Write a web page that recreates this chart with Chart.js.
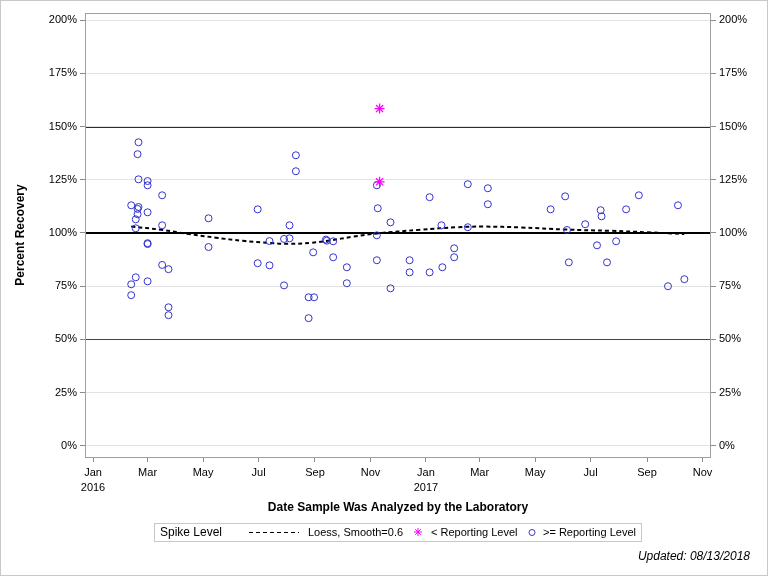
<!DOCTYPE html>
<html>
<head>
<meta charset="utf-8">
<script src="https://cdn.jsdelivr.net/npm/chart.js@4"></script>
<style>
  html, body { margin: 0; padding: 0; background: #fff; }
  #wrap { width: 768px; height: 576px; }
</style>
</head>
<body>
<div id="wrap"><canvas id="myChart" width="768" height="576"></canvas></div>
<script>
// spike recoveries, >= reporting level (one entry per sample)
const circleDates = [
  '2016-02-12','2016-02-12','2016-02-12',
  '2016-02-17','2016-02-17','2016-02-17',
  '2016-02-19','2016-02-19','2016-02-19',
  '2016-02-20','2016-02-20','2016-02-20',
  '2016-03-01','2016-03-01','2016-03-01','2016-03-01','2016-03-01','2016-03-01',
  '2016-03-17','2016-03-17','2016-03-17',
  '2016-03-24','2016-03-24','2016-03-24',
  '2016-05-07','2016-05-07',
  '2016-06-30','2016-06-30',
  '2016-07-13','2016-07-13',
  '2016-07-29','2016-07-29',
  '2016-08-04','2016-08-04',
  '2016-08-11','2016-08-11',
  '2016-08-25','2016-08-25',
  '2016-08-30','2016-08-31',
  '2016-09-13','2016-09-14',
  '2016-09-21','2016-09-21',
  '2016-10-06','2016-10-06',
  '2016-11-08','2016-11-08','2016-11-08','2016-11-09',
  '2016-11-23','2016-11-23',
  '2016-12-14','2016-12-14',
  '2017-01-05','2017-01-05',
  '2017-01-18','2017-01-19',
  '2017-02-01','2017-02-01',
  '2017-02-16','2017-02-16',
  '2017-03-10','2017-03-10',
  '2017-05-18','2017-06-03','2017-06-05','2017-06-07','2017-06-25',
  '2017-07-08','2017-07-12','2017-07-13','2017-07-19','2017-07-29',
  '2017-08-09','2017-08-23','2017-09-24','2017-10-05','2017-10-12'
];
const circleValues = [
  113, 75.9, 70.8,
  106.4, 102.2, 79.2,
  137, 111.3, 108.8,
  142.6, 125.2, 112.2,
  124.4, 122.4, 109.7, 95.2, 94.8, 77.3,
  117.7, 103.6, 85,
  83, 65.1, 61.4,
  106.9, 93.4,
  111.1, 85.8,
  96.2, 84.8,
  97.2, 75.4,
  103.6, 97.5,
  136.5, 129,
  69.8, 60,
  90.9, 69.8,
  96.9, 96.4,
  96.1, 88.6,
  83.9, 76.4,
  122.4, 98.9, 87.2, 111.6,
  105, 74,
  87.2, 81.5,
  116.8, 81.5,
  103.6, 83.9,
  92.8, 88.6,
  122.9, 102.7,
  121, 113.5,
  111.1, 117.2, 101.4, 86.2, 104.1,
  94.2, 110.7, 107.8, 86.2, 96.1,
  111.1, 117.7, 75, 113, 78.3
];

// spike recoveries, < reporting level
const starDates = ['2016-11-11', '2016-11-11'];
const starValues = [158.4, 124];

// loess fit
const loessDates = ['2016-02-12','2016-03-16','2016-04-15','2016-05-15','2016-06-14','2016-07-14',
  '2016-08-03','2016-08-28','2016-09-17','2016-10-12','2016-11-08','2016-12-26',
  '2017-02-04','2017-03-06','2017-04-15','2017-06-04','2017-07-24','2017-09-02','2017-10-12'];
const loessValues = [103, 101.5, 99.5, 97.8, 96.3, 95.3,
  94.9, 95.4, 96.5, 98.2, 99.8, 101.5,
  102.7, 103, 102.6, 101.6, 101, 100.3, 99.5];

const refLines = [150, 100, 50];
const refColors = ['#22227a', '#000000', '#3030f0'];

const yTickValues = [0, 25, 50, 75, 100, 125, 150, 175, 200];
const xTickDates = ['2016-01-01','2016-03-01','2016-05-01','2016-07-01','2016-09-01','2016-11-01',
  '2017-01-01','2017-03-01','2017-05-01','2017-07-01','2017-09-01','2017-11-01'];
const xTickLabels = [['Jan','2016'],'Mar','May','Jul','Sep','Nov',['Jan','2017'],'Mar','May','Jul','Sep','Nov'];

const FONT = 'Liberation Sans, Arial, sans-serif';
const T0 = Date.UTC(2016, 0, 1);
function dayNum(s) {
  const p = s.split('-').map(Number);
  return (Date.UTC(p[0], p[1] - 1, p[2]) - T0) / 86400000;
}
const pts = (dates, vals) => dates.map((d, i) => ({x: dayNum(d), y: vals[i]}));

const framePlugin = {
  id: 'frame',
  beforeDatasetsDraw(chart) {
    const {ctx, chartArea: a, scales} = chart;
    ctx.save();
    refLines.forEach((v, i) => {
      const y = Math.round(scales.y.getPixelForValue(v));
      ctx.strokeStyle = refColors[i];
      ctx.lineWidth = v === 100 ? 2 : 1;
      ctx.beginPath();
      if (v === 100) { ctx.moveTo(a.left, y); ctx.lineTo(a.right, y); }
      else { ctx.moveTo(a.left, y + 0.5); ctx.lineTo(a.right, y + 0.5); }
      ctx.stroke();
    });
    ctx.restore();
  },
  afterDraw(chart) {
    const {ctx, chartArea: a} = chart;
    ctx.save();
    ctx.strokeStyle = '#a0a0a0';
    ctx.lineWidth = 1;
    ctx.strokeRect(Math.round(a.left) + 0.5, Math.round(a.top) + 0.5,
      Math.round(a.right - a.left) - 1, Math.round(a.bottom - a.top));
    // outer border
    ctx.strokeStyle = '#c8c8c8';
    ctx.strokeRect(0.5, 0.5, 767, 575);

    // legend
    ctx.strokeStyle = '#c8c8c8';
    ctx.strokeRect(154.5, 523.5, 487, 18);
    ctx.fillStyle = '#000';
    ctx.textBaseline = 'middle';
    ctx.font = '12px ' + FONT;
    ctx.fillText('Spike Level', 160, 533);
    ctx.font = '11px ' + FONT;
    ctx.strokeStyle = '#000';
    ctx.setLineDash([4, 3]);
    ctx.beginPath(); ctx.moveTo(249, 532.5); ctx.lineTo(299, 532.5); ctx.stroke();
    ctx.setLineDash([]);
    ctx.fillText('Loess, Smooth=0.6', 308, 533);
    // star
    ctx.strokeStyle = '#ff00ff';
    ctx.beginPath();
    const sx = 418, sy = 532, r = 4;
    ctx.moveTo(sx - r, sy); ctx.lineTo(sx + r, sy);
    ctx.moveTo(sx, sy - r); ctx.lineTo(sx, sy + r);
    ctx.moveTo(sx - r * 0.7, sy - r * 0.7); ctx.lineTo(sx + r * 0.7, sy + r * 0.7);
    ctx.moveTo(sx - r * 0.7, sy + r * 0.7); ctx.lineTo(sx + r * 0.7, sy - r * 0.7);
    ctx.stroke();
    ctx.fillText('< Reporting Level', 431, 533);
    ctx.strokeStyle = '#3333cc';
    ctx.beginPath(); ctx.arc(532, 532.5, 3, 0, Math.PI * 2); ctx.stroke();
    ctx.fillText('>= Reporting Level', 543, 533);

    // footnote
    ctx.font = 'italic 12px ' + FONT;
    ctx.textAlign = 'right';
    ctx.fillText('Updated: 08/13/2018', 750, 557);
    ctx.restore();
  }
};

const tickFont = {family: FONT, size: 11};
const yAxis = (pos, width) => ({
  type: 'linear',
  position: pos,
  min: -5.2,
  max: 203.3,
  afterBuildTicks: s => { s.ticks = yTickValues.map(v => ({value: v})); },
  afterFit: s => { s.width = width; },
  ticks: {callback: v => v + '%', font: tickFont, color: '#000', padding: 3},
  grid: {
    display: true,
    drawOnChartArea: pos === 'left',
    color: '#e2e2e2',
    tickColor: '#8c8c8c',
    tickLength: 5
  },
  border: {display: false}
});

const ctx = document.getElementById('myChart');

new Chart(ctx, {
  data: {
    datasets: [
      {
        type: 'scatter',
        label: '>= Reporting Level',
        data: pts(circleDates, circleValues),
        pointStyle: 'circle',
        pointRadius: 3.5,
        pointBorderWidth: 1,
        pointBorderColor: '#3333cc',
        pointBackgroundColor: 'rgba(0,0,0,0)',
        order: 2
      },
      {
        type: 'scatter',
        label: '< Reporting Level',
        data: pts(starDates, starValues),
        pointStyle: 'star',
        pointRadius: 5,
        pointBorderWidth: 1.3,
        pointBorderColor: '#ff00ff',
        order: 1
      },
      {
        type: 'line',
        label: 'Loess, Smooth=0.6',
        data: pts(loessDates, loessValues),
        borderColor: '#000',
        borderWidth: 2,
        borderDash: [4, 3],
        pointRadius: 0,
        tension: 0.4,
        fill: false,
        order: 3
      }
    ]
  },
  plugins: [framePlugin],
  options: {
    responsive: false,
    animation: false,
    layout: {padding: {top: 13, left: 0, right: 0, bottom: 0}},
    plugins: {
      legend: {display: false},
      tooltip: {enabled: false}
    },
    scales: {
      x: {
        type: 'linear',
        position: 'bottom',
        min: -8.8,
        max: 679.3,
        afterBuildTicks: s => { s.ticks = xTickDates.map(d => ({value: dayNum(d)})); },
        afterFit: s => { s.height = 119; },
        ticks: {
          callback: (v, i) => xTickLabels[i],
          autoSkip: false,
          maxRotation: 0,
          font: {family: FONT, size: 11, lineHeight: 1.4},
          color: '#000',
          padding: 3
        },
        grid: {display: true, drawOnChartArea: false, tickColor: '#8c8c8c', tickLength: 5},
        border: {display: false},
        title: {
          display: true,
          text: 'Date Sample Was Analyzed by the Laboratory',
          font: {family: FONT, size: 12, weight: 'bold'},
          color: '#000',
          padding: {top: 4, bottom: 61}
        }
      },
      y: Object.assign(yAxis('left', 85), {
        title: {
          display: true,
          text: 'Percent Recovery',
          font: {family: FONT, size: 12, weight: 'bold'},
          color: '#000',
          padding: {top: 13, bottom: 4}
        }
      }),
      y2: yAxis('right', 57)
    }
  }
});
</script>
</body>
</html>
